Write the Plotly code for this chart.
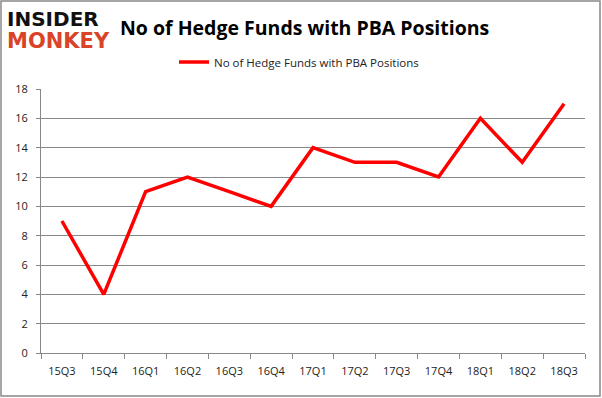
import plotly.graph_objects as go

quarters = ["15Q3", "15Q4", "16Q1", "16Q2", "16Q3", "16Q4", "17Q1", "17Q2", "17Q3", "17Q4", "18Q1", "18Q2", "18Q3"]
funds = [9, 4, 11, 12, 11, 10, 14, 13, 13, 12, 16, 13, 17]
series_name = "No of Hedge Funds with PBA Positions"
y_ticks = [0, 2, 4, 6, 8, 10, 12, 14, 16, 18]

W, H = 602, 398
L, R, T, B = 41, 17, 89, 45
pw, ph = W - L - R, H - T - B

fig = go.Figure()
fig.add_trace(go.Scatter(x=quarters, y=funds, mode="lines", name=series_name,
                         line=dict(color="#ff0000", width=3.5)))

def px2x(px):
    return (px - L) / pw

def py2y(py):
    return 1 - (py - T) / ph

fig.update_layout(
    width=W, height=H,
    margin=dict(l=L, r=R, t=T, b=B, autoexpand=False),
    paper_bgcolor="white", plot_bgcolor="white",
    font=dict(family="Open Sans, DejaVu Sans, sans-serif", color="#222222", size=11),
    showlegend=True,
    legend=dict(orientation="h", x=px2x(299), xanchor="center", y=py2y(62), yanchor="middle",
                font=dict(size=11.5, color="#222222"), bgcolor="rgba(0,0,0,0)", itemwidth=30),
    xaxis=dict(type="category", range=[-0.5, len(quarters) - 0.5], tickson="boundaries",
               ticks="outside", ticklen=5, tickcolor="#888888", showline=True,
               linecolor="#888888", linewidth=1, showgrid=False, ticklabelstandoff=8,
               tickfont=dict(size=11, color="#222222")),
    yaxis=dict(range=[0, 18], tickvals=y_ticks, ticks="outside", ticklen=4, tickcolor="#888888",
               showline=True, linecolor="#888888", linewidth=1, showgrid=True, ticklabelstandoff=6,
               gridcolor="#888888", gridwidth=1, zeroline=False, tickfont=dict(size=11, color="#222222")),
    shapes=[dict(type="rect", xref="paper", yref="paper",
                 x0=px2x(1), x1=px2x(600), y0=py2y(396), y1=py2y(1),
                 line=dict(color="#888888", width=1.5), fillcolor="rgba(0,0,0,0)")],
    annotations=[
        dict(text="<b>No of Hedge Funds with PBA Positions</b>", xref="paper", yref="paper",
             x=px2x(304), y=py2y(27), xanchor="center", yanchor="middle", showarrow=False,
             font=dict(size=19.5, color="#000000", family="Open Sans, DejaVu Sans, sans-serif")),
        dict(text="<b>INSIDER</b>", xref="paper", yref="paper", x=px2x(5), y=py2y(19),
             xanchor="left", yanchor="middle", showarrow=False,
             font=dict(size=20, color="#111111", family="DejaVu Sans, sans-serif")),
        dict(text="<b>MONKEY</b>", xref="paper", yref="paper", x=px2x(5), y=py2y(41),
             xanchor="left", yanchor="middle", showarrow=False,
             font=dict(size=21, color="#d94429", family="DejaVu Sans, sans-serif")),
    ],
)

fig.write_html("out.html", config={"displayModeBar": False},
               post_script="document.body.style.margin='0';document.body.style.overflow='hidden';")
